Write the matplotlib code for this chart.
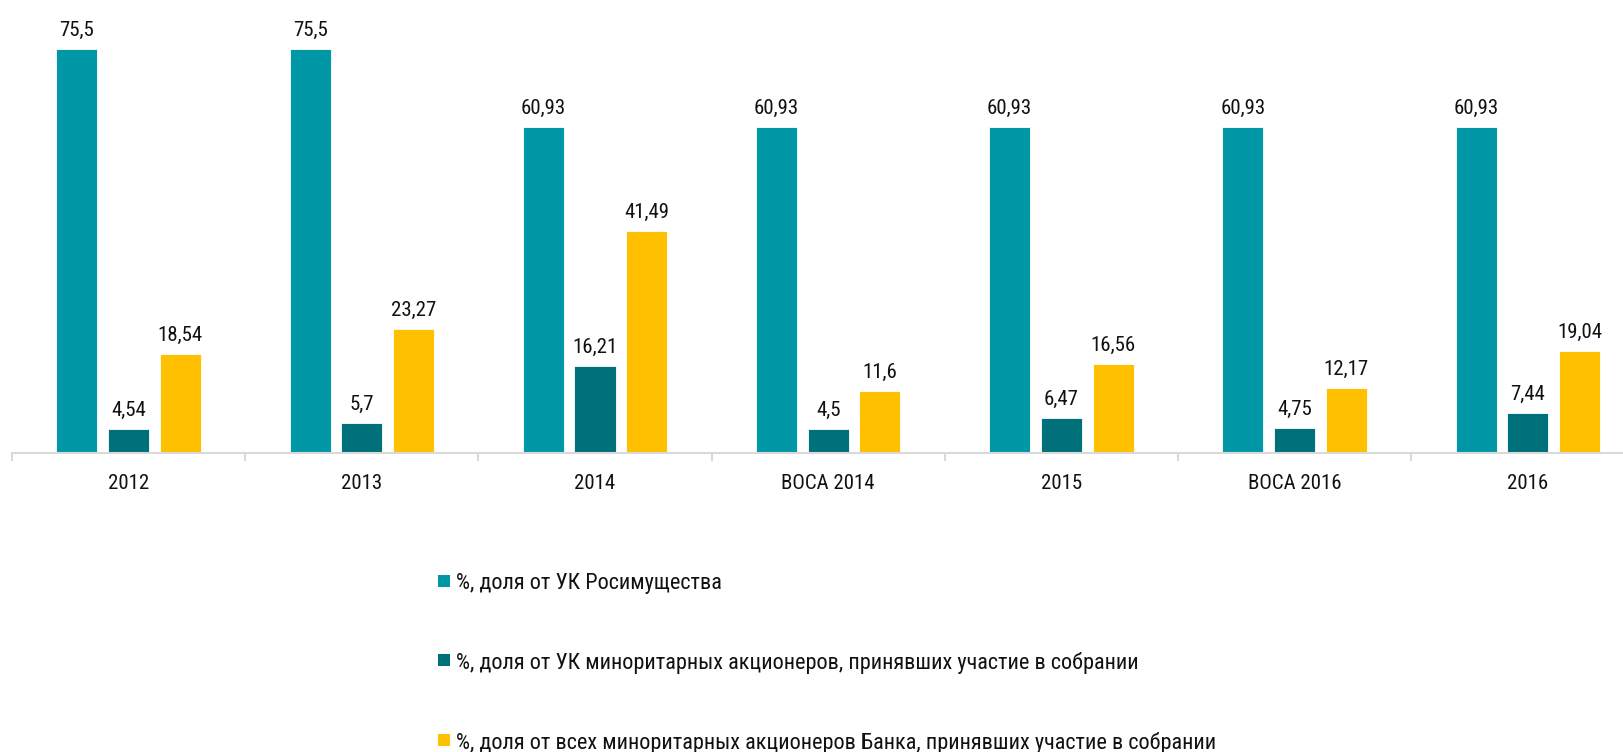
import matplotlib
matplotlib.use("Agg")
import matplotlib.pyplot as plt
import numpy as np
from matplotlib.patches import Rectangle
from matplotlib import font_manager

# Data
categories = ["2012", "2013", "2014", "ВОСА 2014", "2015", "ВОСА 2016", "2016"]
rosim = [75.5, 75.5, 60.93, 60.93, 60.93, 60.93, 60.93]
minor_uk = [4.54, 5.7, 16.21, 4.5, 6.47, 4.75, 7.44]
minor_all = [18.54, 23.27, 41.49, 11.6, 16.56, 12.17, 19.04]
series_names = [
    "%, доля от УК Росимущества",
    "%, доля от УК миноритарных акционеров, принявших участие в собрании",
    "%, доля от всех миноритарных акционеров Банка, принявших участие в собрании",
]
colors = ["#0097A7", "#00707A", "#FFC000"]

# pick a narrow face if one is installed
names = {f.name for f in font_manager.fontManager.ttflist}
candidates = ["Liberation Sans Narrow", "Roboto Condensed", "Open Sans Condensed",
              "DejaVu Sans Condensed"]
family = next((c for c in candidates if c in names), None)
stretch = "normal"
if family is None:
    family = "DejaVu Sans"
    stretch = "condensed"
plt.rcParams["font.family"] = [family, "DejaVu Sans"]
plt.rcParams["font.stretch"] = stretch

fig = plt.figure(figsize=(16.24, 7.52), dpi=100)
W, H = 1624, 752
ax = fig.add_axes([12 / W, (H - 453) / H, (W - 12) / W, 428 / H])

cat_w = 233.2
x = np.arange(len(categories))
bw = 0.176
off = 0.222
for i, (vals, c) in enumerate(zip([rosim, minor_uk, minor_all], colors)):
    pos = x + (i - 1) * off
    ax.bar(pos, vals, width=bw, color=c, edgecolor="white", linewidth=0.6, zorder=2)
    for p, v in zip(pos, vals):
        ax.annotate(f"{v:g}".replace(".", ","), (p, v), xytext=(0, 6.5),
                    textcoords="offset points", ha="center", va="bottom",
                    fontsize=15, color="#111111")

ax.set_xlim(-0.5, -0.5 + (W - 12) / cat_w)
ax.set_ylim(0, 80)
for s in ["top", "right", "left"]:
    ax.spines[s].set_visible(False)
ax.spines["bottom"].set_color("#d9d9d9")
ax.spines["bottom"].set_linewidth(1.5)
ax.set_yticks([])
ax.set_xticks(np.arange(len(categories)) - 0.5, minor=False)
ax.set_xticklabels([])
ax.tick_params(axis="x", which="major", length=6, width=1.5, color="#d9d9d9")
ax.set_xticks(x, minor=True)
ax.set_xticklabels(categories, minor=True, fontsize=15, color="#111111")
ax.tick_params(axis="x", which="minor", length=0, pad=15)

# legend rows drawn by hand: square marker + label
row_y = [581, 660, 740]
for name, c, yy in zip(series_names, colors, row_y):
    fig.add_artist(Rectangle((438 / W, (H - yy - 6) / H), 12 / W, 12 / H,
                             transform=fig.transFigure, facecolor=c,
                             edgecolor="none"))
    fig.text(456 / W, (H - yy) / H, name, ha="left", va="center_baseline",
             fontsize=16, color="#111111")

fig.savefig("out.png", dpi=100)
